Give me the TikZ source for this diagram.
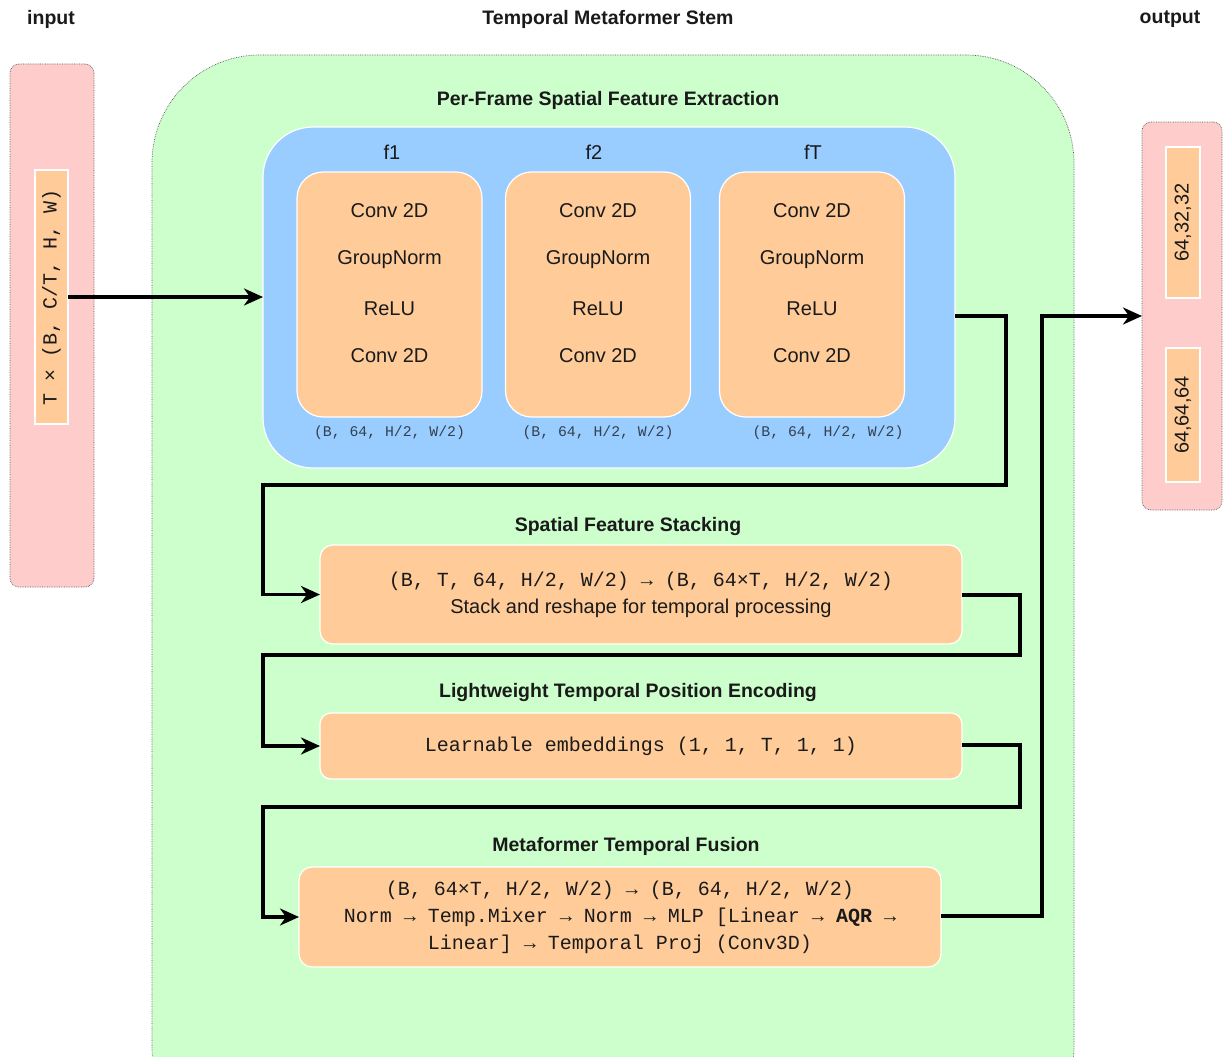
\documentclass[tikz,border=0pt]{standalone}
\usepackage{fontspec}
\setmainfont{Liberation Sans}
\setmonofont{Liberation Mono}
\usetikzlibrary{arrows.meta,calc}
\definecolor{gfill}{HTML}{CCFFCC}
\definecolor{bfill}{HTML}{99CCFF}
\definecolor{ofill}{HTML}{FFCC99}
\definecolor{pfill}{HTML}{FFCCCC}
\definecolor{lbl}{HTML}{34414F}
\definecolor{txt}{HTML}{1A1A1A}
\begin{document}
\begin{tikzpicture}[x=1pt,y=-1pt,
  every node/.style={inner sep=0pt,outer sep=0pt,text=txt},
  big/.style={font=\fontsize{20}{24}\selectfont},
  ttl/.style={font=\fontsize{19.5}{24}\selectfont\bfseries},
  mono/.style={font=\fontsize{20}{27}\selectfont\ttfamily},
  smono/.style={font=\fontsize{14.8}{16}\selectfont\ttfamily,text=lbl},
  pinkbox/.style={draw=gray!70!black,densely dotted,line width=0.7pt,fill=pfill,rounded corners=9pt},
  obox/.style={draw=white,line width=1.2pt,fill=ofill},
  conn/.style={draw=black,line width=3.2pt,line join=miter,-{Stealth[length=19pt,width=17pt,inset=6pt]}}]
\useasboundingbox (0,0) rectangle (1224,1057);
\begin{scope}
\clip (0,0) rectangle (1224,1057);
\node[draw=gray!70!black,densely dotted,line width=0.7pt,fill=gfill,rounded corners=108pt,
  minimum width=922pt,minimum height=1100pt,anchor=north west] (stem) at (152,55) {};
\end{scope}
% titles
\node[ttl] (tin) at (51,19) {input};
\node[ttl] (tstem) at (608,19) {Temporal Metaformer Stem};
\node[ttl] (tout) at (1170,19) {output};
% input
\node[pinkbox,minimum width=84pt,minimum height=523pt] (inbox) at (52,325.5) {};
\node[obox,minimum width=33pt,minimum height=254pt] (inner) at (51.5,297) {};
\node[mono,rotate=90] (intxt) at (51.5,297) {T × (B, C/T, H, W)};
% per-frame
\node[ttl] (tpf) at (608,100) {Per-Frame Spatial Feature Extraction};
\node[draw=white,line width=1.2pt,fill=bfill,rounded corners=50pt,minimum width=692pt,minimum height=341pt] (blue) at (609,297.5) {};
\foreach \n/\x/\lab/\lx in {a/389.5/f1/392, b/598/f2/594, c/812/fT/813}{
  \node[big] (lab\n) at (\lx,152) {\lab};
  \node[obox,rounded corners=26pt,minimum width=185pt,minimum height=245pt] (fr\n) at (\x,294.5) {};
  \node[big] (c1\n) at (\x,211) {Conv 2D};
  \node[big] (gn\n) at (\x,260) {GroupNorm};
  \node[big] (re\n) at (\x,309) {ReLU};
  \node[big] (c2\n) at (\x,356) {Conv 2D};
}
\node[smono] (sa) at (389.5,433) {(B, 64, H/2, W/2)};
\node[smono] (sb) at (598,433) {(B, 64, H/2, W/2)};
\node[smono] (sc) at (828,433) {(B, 64, H/2, W/2)};
% stacking
\node[ttl] (tst) at (628,526) {Spatial Feature Stacking};
\node[obox,rounded corners=13pt,minimum width=642pt,minimum height=99pt] (stack) at (641,594.5) {};
\node[mono] (st1) at (641,581) {(B, T, 64, H/2, W/2) → (B, 64×T, H/2, W/2)};
\node[big] (st2) at (641,608) {Stack and reshape for temporal processing};
% encoding
\node[ttl] (ten) at (628,692) {Lightweight Temporal Position Encoding};
\node[obox,rounded corners=11pt,minimum width=642pt,minimum height=66pt] (enc) at (641,746) {};
\node[mono] (en1) at (641,746) {Learnable embeddings (1, 1, T, 1, 1)};
% fusion
\node[ttl] (tfu) at (626,846) {Metaformer Temporal Fusion};
\node[obox,rounded corners=13pt,minimum width=642pt,minimum height=100pt] (fus) at (620,917) {};
\node[mono,align=center] (fu1) at (620,917) {(B, 64×T, H/2, W/2) → (B, 64, H/2, W/2)\\Norm → Temp.Mixer → Norm → MLP [Linear → \textbf{AQR} →\\Linear] → Temporal Proj (Conv3D)};
% output
\node[pinkbox,minimum width=80pt,minimum height=388pt] (outbox) at (1182,316) {};
\node[obox,minimum width=34pt,minimum height=151pt] (o1) at (1183,222.5) {};
\node[big,rotate=90] (o1t) at (1183,222.5) {64,32,32};
\node[obox,minimum width=34pt,minimum height=134pt] (o2) at (1183,415) {};
\node[big,rotate=90] (o2t) at (1183,415) {64,64,64};
% connectors
\draw[conn] (inner.east |- 0,297) -- (blue.west |- 0,297);
\coordinate (k1) at (1006,316);
\coordinate (k2) at (1020,595);
\coordinate (k3) at (1020,745);
\coordinate (k4) at (1042,916);
\draw[conn] (blue.east |- k1) -- (k1) |- (263,485) |- (stack.west);
\draw[conn] (stack.east |- k2) -- (k2) |- (263,655) |- (enc.west);
\draw[conn] (enc.east |- k3) -- (k3) |- (263,807) |- (fus.west);
\draw[conn] (fus.east |- k4) -- (k4) |- (outbox.west);
\end{tikzpicture}
\end{document}
